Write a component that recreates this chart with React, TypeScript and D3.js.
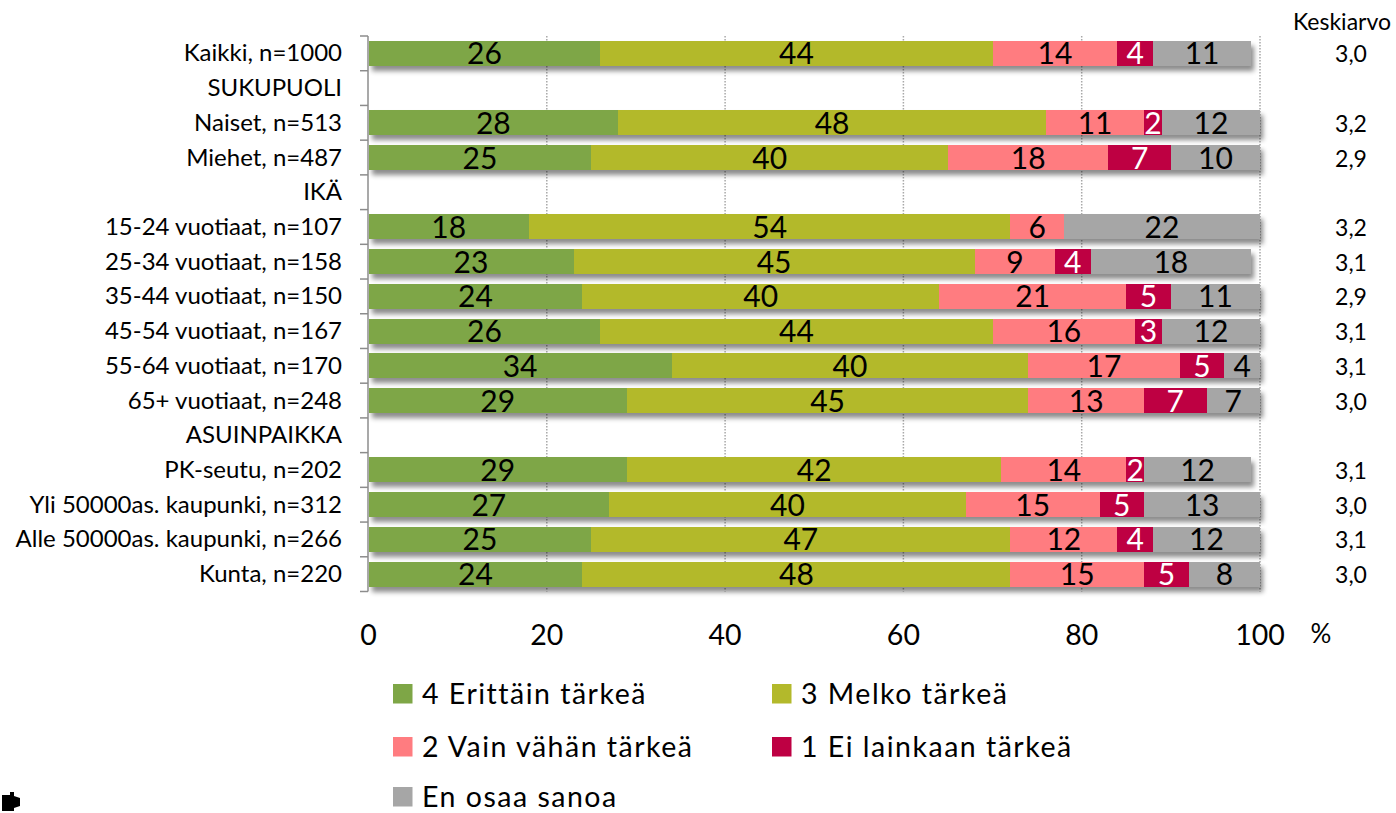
import { useEffect, useRef } from 'react';
import * as d3 from 'd3';

const categories = [
  'Kaikki, n=1000',
  'SUKUPUOLI',
  'Naiset, n=513',
  'Miehet, n=487',
  'IKÄ',
  '15-24 vuotiaat, n=107',
  '25-34 vuotiaat, n=158',
  '35-44 vuotiaat, n=150',
  '45-54 vuotiaat, n=167',
  '55-64 vuotiaat, n=170',
  '65+ vuotiaat, n=248',
  'ASUINPAIKKA',
  'PK-seutu, n=202',
  'Yli 50000as. kaupunki, n=312',
  'Alle 50000as. kaupunki, n=266',
  'Kunta, n=220',
];

const erittainTarkea = [26, null, 28, 25, null, 18, 23, 24, 26, 34, 29, null, 29, 27, 25, 24];
const melkoTarkea = [44, null, 48, 40, null, 54, 45, 40, 44, 40, 45, null, 42, 40, 47, 48];
const vainVahanTarkea = [14, null, 11, 18, null, 6, 9, 21, 16, 17, 13, null, 14, 15, 12, 15];
const eiLainkaanTarkea = [4, null, 2, 7, null, 0, 4, 5, 3, 5, 7, null, 2, 5, 4, 5];
const enOsaaSanoa = [11, null, 12, 10, null, 22, 18, 11, 12, 4, 7, null, 12, 13, 12, 8];

const keskiarvo = ['3,0', '', '3,2', '2,9', '', '3,2', '3,1', '2,9', '3,1', '3,1', '3,0', '', '3,1', '3,0', '3,1', '3,0'];

const xTicks = [0, 20, 40, 60, 80, 100];

const series = [
  { key: 'e4', label: '4 Erittäin tärkeä', color: '#7EA646', text: '#000', values: erittainTarkea },
  { key: 'e3', label: '3 Melko tärkeä', color: '#B3B92B', text: '#000', values: melkoTarkea },
  { key: 'e2', label: '2 Vain vähän tärkeä', color: '#FF7C80', text: '#000', values: vainVahanTarkea },
  { key: 'e1', label: '1 Ei lainkaan tärkeä', color: '#BE0043', text: '#fff', values: eiLainkaanTarkea },
  { key: 'eos', label: 'En osaa sanoa', color: '#A6A6A6', text: '#000', values: enOsaaSanoa },
];

const FONT = 'Lato, "Noto Sans", sans-serif';

type Segment = { key: string; row: string; x0: number; x1: number; value: number; color: string; text: string };

export default function App() {
  const svgRef = useRef<SVGSVGElement | null>(null);

  useEffect(() => {
    const svgElement = svgRef.current;
    if (!svgElement) return;
    const svg = d3.select(svgElement);
    svg.selectAll('*').remove();

    const width = 1396;
    const height = 813;
    svg.attr('viewBox', `0 0 ${width} ${height}`);

    const x = d3.scaleLinear().domain([0, 100]).range([368.5, 1260]).clamp(true);
    const y = d3.scaleBand<string>().domain(categories).range([36, 591.5]).paddingInner(0.28).paddingOuter(0.14);
    const step = y.step();
    const top = 36;
    const bottom = 591.5;

    const defs = svg.append('defs');
    const filter = defs.append('filter').attr('id', 'bar-shadow').attr('x', '-5%').attr('y', '-30%').attr('width', '110%').attr('height', '190%');
    filter
      .append('feDropShadow')
      .attr('dx', 3)
      .attr('dy', 5)
      .attr('stdDeviation', 2.5)
      .attr('flood-color', '#000')
      .attr('flood-opacity', 0.45);

    // gridlines
    svg
      .append('g')
      .selectAll('line')
      .data(xTicks.filter((t) => t > 0))
      .join('line')
      .attr('x1', (d) => x(d))
      .attr('x2', (d) => x(d))
      .attr('y1', top)
      .attr('y2', bottom)
      .attr('stroke', '#A8A8A8')
      .attr('stroke-width', 1.5)
      .attr('stroke-dasharray', '1.5 1.5');

    // stacked segments, clipped at 100 like the original
    const rows = categories.map((cat, i) => {
      let acc = 0;
      const segs: Segment[] = [];
      series.forEach((s) => {
        const v = s.values[i];
        if (v == null) return;
        segs.push({ key: s.key, row: cat, x0: acc, x1: acc + v, value: v, color: s.color, text: s.text });
        acc += v;
      });
      return { cat, segs };
    });

    const rowGroups = svg
      .append('g')
      .selectAll('g.row')
      .data(rows.filter((r) => r.segs.length > 0))
      .join('g')
      .attr('class', 'row');

    rowGroups
      .append('g')
      .attr('filter', 'url(#bar-shadow)')
      .selectAll('rect')
      .data((d) => d.segs.filter((s) => s.value > 0))
      .join('rect')
      .attr('x', (d) => x(d.x0))
      .attr('width', (d) => Math.max(0, x(d.x1) - x(d.x0)))
      .attr('y', (d) => y(d.row)!)
      .attr('height', y.bandwidth())
      .attr('fill', (d) => d.color)
      .attr('shape-rendering', 'crispEdges');

    rowGroups
      .selectAll('text')
      .data((d) => d.segs.filter((s) => s.value > 0))
      .join('text')
      .attr('x', (d) => (x(d.x0) + x(d.x1)) / 2)
      .attr('y', (d) => y(d.row)! + y.bandwidth() / 2 + 11)
      .attr('text-anchor', 'middle')
      .attr('font-family', FONT)
      .attr('font-size', 30)
      .attr('fill', (d) => d.text)
      .text((d) => d.value);

    // category axis
    const axis = svg.append('g').attr('stroke', '#8C8C8C').attr('stroke-width', 1.5);
    axis.append('line').attr('x1', 368).attr('x2', 368).attr('y1', top).attr('y2', bottom);
    axis
      .selectAll('line.tick')
      .data(d3.range(categories.length + 1))
      .join('line')
      .attr('class', 'tick')
      .attr('x1', 360)
      .attr('x2', 368)
      .attr('y1', (i) => top + i * step)
      .attr('y2', (i) => top + i * step);

    svg
      .append('g')
      .selectAll('text')
      .data(categories)
      .join('text')
      .attr('x', 342)
      .attr('y', (d) => y(d)! + y.bandwidth() / 2 + 8)
      .attr('text-anchor', 'end')
      .attr('font-family', FONT)
      .attr('font-size', 24)
      .attr('fill', '#000')
      .text((d) => d);

    // x tick labels
    svg
      .append('g')
      .selectAll('text')
      .data(xTicks)
      .join('text')
      .attr('x', (d) => x(d))
      .attr('y', 645)
      .attr('text-anchor', 'middle')
      .attr('font-family', FONT)
      .attr('font-size', 28.5)
      .text((d) => d);
    svg.append('text').attr('x', 1321).attr('y', 643).attr('text-anchor', 'middle').attr('font-family', FONT).attr('font-size', 26).text('%');

    // Keskiarvo column
    svg.append('text').attr('x', 1342).attr('y', 30).attr('text-anchor', 'middle').attr('font-family', FONT).attr('font-size', 23).text('Keskiarvo');
    svg
      .append('g')
      .selectAll('text')
      .data(categories)
      .join('text')
      .attr('x', 1351)
      .attr('y', (d) => y(d)! + y.bandwidth() / 2 + 9)
      .attr('text-anchor', 'middle')
      .attr('font-family', FONT)
      .attr('font-size', 23)
      .text((_, i) => keskiarvo[i]);

    // legend
    const legendPos = [
      [393, 694],
      [772, 694],
      [393, 747],
      [772, 747],
      [393, 797],
    ];
    const legend = svg
      .append('g')
      .selectAll('g')
      .data(series)
      .join('g')
      .attr('transform', (_, i) => `translate(${legendPos[i][0]},${legendPos[i][1]})`);
    legend.append('rect').attr('x', 0).attr('y', -10).attr('width', 19.5).attr('height', 19.5).attr('fill', (d) => d.color);
    legend
      .append('text')
      .attr('x', 29)
      .attr('y', 9.5)
      .attr('font-family', FONT)
      .attr('font-size', 28.5)
      .attr('letter-spacing', 1.5)
      .text((d) => d.label);

    // small black mark bottom left
    svg
      .append('path')
      .attr('d', 'M2,795 L10,795 L10,792 L14,792 L14,796 L20,798 L20,806 L14,808 L14,811 L2,811 Z')
      .attr('fill', '#000');
  }, []);

  return (
    <svg
      ref={svgRef}
      width={1396}
      height={813}
      style={{ position: 'absolute', left: 0, top: 0, display: 'block', background: '#fff' }}
    />
  );
}
